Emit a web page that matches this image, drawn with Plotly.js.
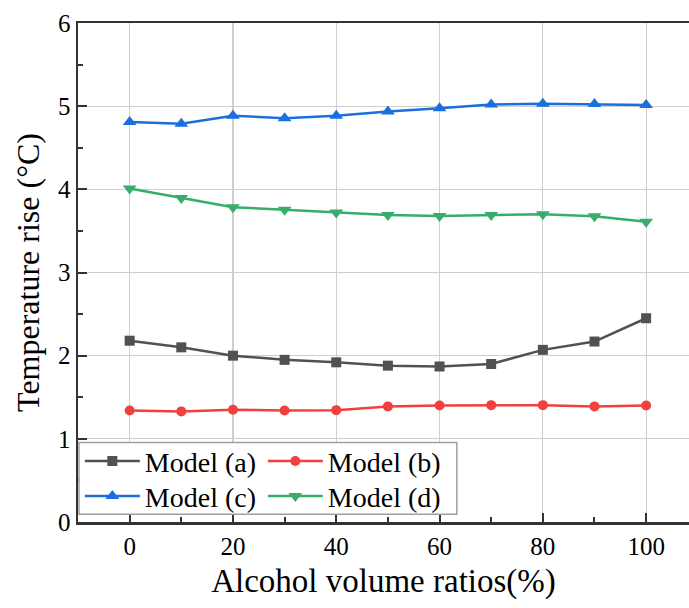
<!DOCTYPE html>
<html>
<head>
<meta charset="utf-8">
<script src="https://cdn.plot.ly/plotly-3.0.1.min.js"></script>
<style>html,body{margin:0;padding:0;background:#fff;}#chart{width:689px;height:608px;}</style>
</head>
<body>
<div id="chart"></div>
<script>
const ratios = [0, 10, 20, 30, 40, 50, 60, 70, 80, 90, 100];
const modelA = [2.18, 2.10, 2.00, 1.95, 1.92, 1.88, 1.87, 1.90, 2.07, 2.17, 2.45];
const modelB = [1.34, 1.33, 1.35, 1.34, 1.345, 1.39, 1.40, 1.405, 1.405, 1.39, 1.40];
const modelC = [4.81, 4.79, 4.885, 4.855, 4.885, 4.935, 4.975, 5.02, 5.03, 5.025, 5.015];
const modelD = [4.01, 3.895, 3.785, 3.755, 3.72, 3.69, 3.68, 3.69, 3.70, 3.675, 3.61];
const seriesNames = ["Model (a)", "Model (b)", "Model (c)", "Model (d)"];
const xTitle = "Alcohol volume ratios(%)";
const yTitle = "Temperature rise (°C)";

const font = "Liberation Serif";
const colors = ["#515151", "#F14040", "#1A6FDF", "#37AD6B"];
const symbols = ["square", "circle", "triangle-up", "triangle-down"];
const sizes = [10, 10, 12, 12];
const data = [modelA, modelB, modelC, modelD].map((ys, i) => ({
  x: ratios, y: ys, type: "scatter", mode: "lines+markers",
  name: seriesNames[i],
  legend: i < 2 ? "legend" : "legend2",
  line: {color: colors[i], width: 2.5},
  marker: {color: colors[i], symbol: symbols[i], size: sizes[i]}
}));

const legendCommon = {
  orientation: "h", xref: "paper", yref: "paper", xanchor: "left", yanchor: "middle",
  bgcolor: "rgba(0,0,0,0)", borderwidth: 0, entrywidth: 113, entrywidthmode: "pixels",
  font: {family: font, size: 28, color: "#000"}, tracegroupgap: 0, itemwidth: 55
};

const layout = {
  width: 689, height: 608,
  margin: {l: 78, r: 0, t: 23, b: 86},
  paper_bgcolor: "#fff", plot_bgcolor: "#fff",
  font: {family: font, color: "#000"},
  showlegend: true,
  legend: Object.assign({}, legendCommon, {x: 0.003, y: 0.1215}),
  legend2: Object.assign({}, legendCommon, {x: 0.003, y: 0.0514}),
  shapes: [{
    type: "rect", xref: "paper", yref: "paper", layer: "above",
    x0: 0.0016, x1: 0.620, y0: 0.0154, y1: 0.1595,
    fillcolor: "#fff", line: {color: "#a0a0a0", width: 1.5}
  }],
  xaxis: {
    range: [-10, 108.3], tickvals: [0, 20, 40, 60, 80, 100],
    ticks: "inside", ticklen: 9, tickwidth: 2, tickcolor: "#333",
    minor: {tickvals: [10, 30, 50, 70, 90], ticks: "inside", ticklen: 5, tickwidth: 2, tickcolor: "#333", showgrid: false},
    showgrid: true, gridcolor: "#cfcfcf", gridwidth: 1.2,
    showline: true, linecolor: "#333", linewidth: 2.5, mirror: true,
    zeroline: false,
    tickfont: {family: font, size: 25, color: "#000"},
    title: {text: xTitle, font: {family: font, size: 33, color: "#000"}, standoff: 11}
  },
  yaxis: {
    range: [0, 6], tickvals: [0, 1, 2, 3, 4, 5, 6],
    ticks: "inside", ticklen: 9, tickwidth: 2, tickcolor: "#333",
    minor: {tickvals: [0.5, 1.5, 2.5, 3.5, 4.5, 5.5], ticks: "inside", ticklen: 5, tickwidth: 2, tickcolor: "#333", showgrid: false},
    showgrid: true, gridcolor: "#cfcfcf", gridwidth: 1.2,
    showline: true, linecolor: "#333", linewidth: 2.5, mirror: false,
    zeroline: false,
    tickfont: {family: font, size: 25, color: "#000"},
    title: {text: yTitle, font: {family: font, size: 32, color: "#000"}, standoff: 9}
  }
};

Plotly.newPlot("chart", data, layout, {displayModeBar: false, staticPlot: true});
</script>
</body>
</html>
